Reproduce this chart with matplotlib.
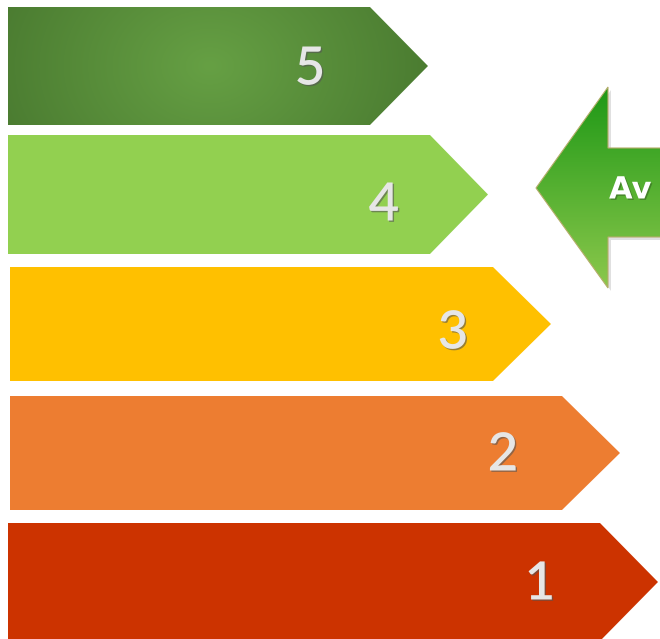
import numpy as np
import matplotlib.pyplot as plt
from matplotlib.patches import Polygon
import matplotlib.patheffects as pe

# niveles de la escala (de arriba hacia abajo)
levels = ['5', '4', '3', '2', '1']
bar_colors = ['#5a9239', '#92d050', '#ffc000', '#ed7d31', '#cc3300']
bar_top = [7, 135, 267, 396, 523]
bar_bottom = [125, 254, 381, 510, 641]
bar_left = [8, 8, 10, 10, 8]
body_end = [370, 430, 493, 562, 600]
tip_len = 58
label_x = [310, 384, 453, 503, 540]
label_y = [69, 205, 333, 455, 584]

marker_text = 'Av'
marker_tip = (536, 188)
marker_head_x = 608
marker_head = (87, 288)
marker_shaft = (148, 237)

W, H = 660, 639
fig = plt.figure(figsize=(W / 100, H / 100), dpi=100)
ax = fig.add_axes([0, 0, 1, 1])
ax.set_xlim(0, W)
ax.set_ylim(H, 0)
ax.axis('off')

txt_fx = [pe.withSimplePatchShadow(offset=(1, -1), shadow_rgbFace='#555555', alpha=0.6)]

for i, lev in enumerate(levels):
    t, b, l, e = bar_top[i], bar_bottom[i], bar_left[i], body_end[i]
    mid = (t + b) / 2
    pts = [(l, t), (e, t), (e + tip_len, mid), (e, b), (l, b)]
    if i == 0:
        # barra superior con degradado radial
        poly = Polygon(pts, closed=True, facecolor='none', edgecolor='none')
        ax.add_patch(poly)
        xs = np.linspace(l, e + tip_len, 300)
        ys = np.linspace(t, b, 80)
        X, Y = np.meshgrid(xs, ys)
        r = np.sqrt(((X - 210) / 220) ** 2 + ((Y - mid) / 170) ** 2)
        r = np.clip(r, 0, 1)
        c0 = np.array([0x66, 0xa0, 0x44]) / 255
        c1 = np.array([0x4b, 0x7c, 0x31]) / 255
        img = c0[None, None, :] * (1 - r[..., None]) + c1[None, None, :] * r[..., None]
        im = ax.imshow(img, extent=(l, e + tip_len, b, t), aspect='auto',
                       interpolation='bilinear', zorder=1)
        im.set_clip_path(poly)
    else:
        ax.add_patch(Polygon(pts, closed=True, facecolor=bar_colors[i],
                             edgecolor='none', zorder=1))
    ax.text(label_x[i], label_y[i], lev, fontsize=38, color='#e6e6e6',
            family='Lato', fontweight='semibold', ha='center', va='center',
            zorder=3, path_effects=txt_fx)

# flecha indicadora
tx, ty = marker_tip
arrow_pts = [(W + 30, marker_shaft[0]), (marker_head_x, marker_shaft[0]),
             (marker_head_x, marker_head[0]), (tx, ty),
             (marker_head_x, marker_head[1]), (marker_head_x, marker_shaft[1]),
             (W + 30, marker_shaft[1])]
shadow = Polygon([(x + 3, y + 3) for x, y in arrow_pts], closed=True,
                 facecolor='#000000', alpha=0.12, edgecolor='none', zorder=1)
ax.add_patch(shadow)
arrow = Polygon(arrow_pts, closed=True, facecolor='none', edgecolor='#b5ad6a',
                lw=0.8, zorder=2)
ax.add_patch(arrow)
grad = np.linspace(0, 1, 200)[:, None]
g0 = np.array([0x1e, 0x98, 0x16]) / 255
g1 = np.array([0x8c, 0xc8, 0x4c]) / 255
gimg = g0[None, None, :] * (1 - grad[..., None]) + g1[None, None, :] * grad[..., None]
gimg = np.repeat(gimg, 2, axis=1)
gi = ax.imshow(gimg, extent=(tx, W + 30, marker_head[1], marker_head[0]),
               aspect='auto', interpolation='bilinear', zorder=1.5)
gi.set_clip_path(arrow)
ax.text(marker_head_x + 1, ty + 2, marker_text, fontsize=22, fontweight='bold',
        color='white', ha='left', va='center', zorder=3,
        path_effects=[pe.withSimplePatchShadow(offset=(1, -1), shadow_rgbFace='#335522', alpha=0.5)])

fig.savefig('out.png', dpi=100)
